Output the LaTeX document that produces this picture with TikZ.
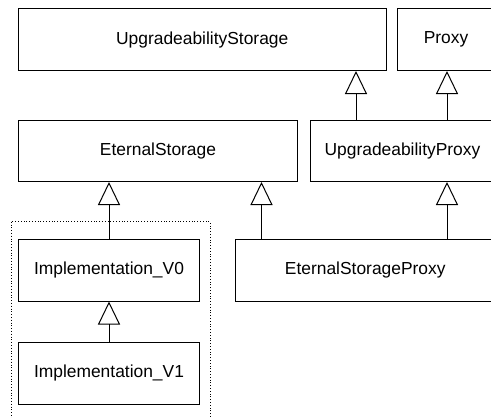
\documentclass[tikz,border=0pt]{standalone}
\usepackage{fontspec}
\setmainfont{Liberation Sans}
\usetikzlibrary{arrows.meta}
\begin{document}
\begin{tikzpicture}[x=1pt,y=-1pt,
  cls/.style={draw=black, line width=1pt, fill=white, inner sep=0pt, font=\fontsize{17.4}{20}\selectfont},
  inh/.style={draw=black, line width=1pt, -{Triangle[open, length=23pt, width=22pt, line width=1pt]}}]
\clip (0,0) rectangle (491,418);
\useasboundingbox (0,0) rectangle (491,418);
\draw[line width=0.8pt, dotted] (11.5,221.7) rectangle (210,430);
\node[cls, minimum width=367.5pt, minimum height=62pt] (us) at (202.25,39.5) {UpgradeabilityStorage};
\node[cls, minimum width=98pt, minimum height=62pt] (p) at (446,39.5) {Proxy};
\node[cls, minimum width=279pt, minimum height=61.5pt] (es) at (158,150.75) {EternalStorage};
\node[cls, minimum width=185pt, minimum height=61.5pt] (up) at (402.5,150.75) {UpgradeabilityProxy};
\node[cls, minimum width=259.5pt, minimum height=62pt] (esp) at (365.25,270) {EternalStorageProxy};
\node[cls, minimum width=181pt, minimum height=62pt] (v0) at (109,270) {Implementation\_V0};
\node[cls, minimum width=181pt, minimum height=62pt] (v1) at (109,373) {Implementation\_V1};
\coordinate (x1) at (356,0);
\coordinate (x2) at (447,0);
\coordinate (x3) at (261.5,0);
\draw[inh] (up.north -| x1) -- (us.south -| x1);
\draw[inh] (up.north -| x2) -- (p.south -| x2);
\draw[inh] (v0.north) -- (es.south -| v0.north);
\draw[inh] (esp.north -| x3) -- (es.south -| x3);
\draw[inh] (esp.north -| x2) -- (up.south -| x2);
\draw[inh] (v1.north) -- (v0.south);
\end{tikzpicture}
\end{document}
